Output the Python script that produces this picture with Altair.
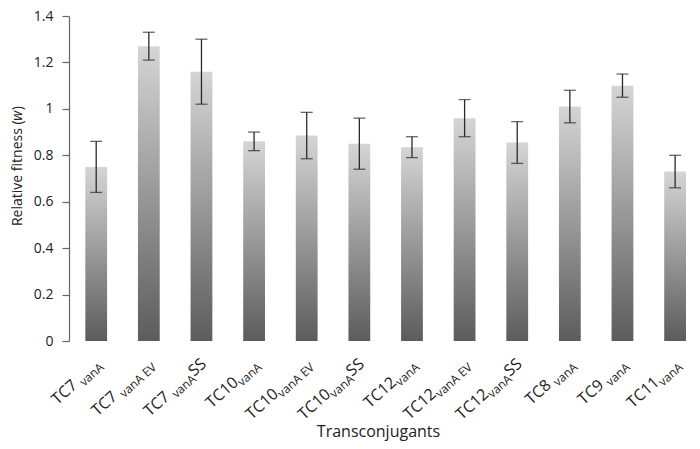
import altair as alt
import pandas as pd

# ---- data ----
mains = ["TC7", "TC7", "TC7", "TC10", "TC10", "TC10", "TC12", "TC12", "TC12", "TC8", "TC9", "TC11"]
subs = ["vanA", "vanA EV", "vanA", "vanA", "vanA EV", "vanA", "vanA", "vanA EV", "vanA", "vanA", "vanA", "vanA"]
suffixes = ["", "", "SS", "", "", "SS", "", "", "SS", "", "", ""]
gaps = [True, True, True, False, False, False, False, False, False, True, True, False]
fitness = [0.75, 1.27, 1.16, 0.86, 0.885, 0.85, 0.835, 0.96, 0.855, 1.01, 1.10, 0.73]
errors = [0.11, 0.06, 0.14, 0.04, 0.10, 0.11, 0.045, 0.08, 0.09, 0.07, 0.05, 0.07]
y_ticks = [0, 0.2, 0.4, 0.6, 0.8, 1, 1.2, 1.4]
y_title = ["Relative fitness (", "w", ")"]
x_title = "Transconjugants"

cats = [m + (" " if g else "") + s + x for m, s, x, g in zip(mains, subs, suffixes, gaps)]

FONT = "Open Sans"
TXT = "#222222"
W, H = 617, 325

# approximate Open Sans advance widths (em)
CW = {" ": 0.26, "(": 0.30, ")": 0.30, "R": 0.63, "e": 0.56, "l": 0.253, "a": 0.556,
      "t": 0.344, "i": 0.253, "v": 0.497, "f": 0.315, "n": 0.614, "s": 0.476,
      "w": 0.764, "T": 0.557, "C": 0.633, "A": 0.633, "E": 0.556, "V": 0.613,
      "S": 0.547}
for d in "0123456789":
    CW[d] = 0.572


def tw(s, size):
    return sum(CW.get(c, 0.55) for c in s) * size


df = pd.DataFrame({
    "cat": cats,
    "fitness": fitness,
    "lo": [f - e for f, e in zip(fitness, errors)],
    "hi": [f + e for f, e in zip(fitness, errors)],
})

xscale = alt.Scale(domain=cats, paddingInner=0.586, paddingOuter=0.155, align=1)

grad = alt.Gradient(
    gradient="linear",
    stops=[alt.GradientStop(color="#d5d5d5", offset=0),
           alt.GradientStop(color="#5c5c5c", offset=1)],
    x1=0, x2=0, y1=0, y2=1,
)

bars = alt.Chart(df).mark_bar(color=grad).encode(
    x=alt.X("cat:N", scale=xscale, sort=cats,
            axis=alt.Axis(labels=False, ticks=False, title=None, domainColor="#666666",
                          domainWidth=1.2)),
    y=alt.Y("fitness:Q", scale=alt.Scale(domain=[0, 1.4], nice=False),
            axis=alt.Axis(values=y_ticks, format=".1~f", grid=False, title=None,
                          tickSize=7, tickColor="#666666", tickWidth=1.2,
                          domainColor="#666666", domainWidth=1.2,
                          labelPadding=9, labelFont=FONT, labelFontSize=14,
                          labelColor=TXT)),
)

err_rule = alt.Chart(df).mark_rule(color="#2a2a2a", strokeWidth=1.3).encode(
    x=alt.X("cat:N", scale=xscale, sort=cats, axis=None),
    y=alt.Y("lo:Q"), y2="hi:Q",
)
cap_lo = alt.Chart(df).mark_tick(color="#2a2a2a", size=12, thickness=1.3).encode(
    x=alt.X("cat:N", scale=xscale, sort=cats, axis=None), y=alt.Y("lo:Q"))
cap_hi = alt.Chart(df).mark_tick(color="#2a2a2a", size=12, thickness=1.3).encode(
    x=alt.X("cat:N", scale=xscale, sort=cats, axis=None), y=alt.Y("hi:Q"))

layers = [bars, err_rule, cap_lo, cap_hi]

# ---- rotated x labels with subscripts (dx/dy are in the rotated frame) ----
MAIN, SUB, SUBDROP = 16, 12, 4
END_A, END_B = -12, 22
ANGLE = 318
for cat, m, s, x, g in zip(cats, mains, subs, suffixes, gaps):
    pieces = [(m, MAIN, 0, (tw(" ", MAIN) if g else 0.0)), (s, SUB, SUBDROP, 0.0), (x, MAIN, 0, 0.0)]
    widths = [tw(p[0], p[1]) + p[3] for p in pieces]
    for k, (txt, size, drop, extra) in enumerate(pieces):
        if not txt:
            continue
        after = sum(widths[k + 1:]) + extra
        layers.append(
            alt.Chart(pd.DataFrame({"cat": [cat], "t": [txt]})).mark_text(
                angle=ANGLE, align="right", baseline="alphabetic", font=FONT,
                fontSize=size, color=TXT, dx=END_A - after, dy=END_B + drop,
            ).encode(
                x=alt.X("cat:N", scale=xscale, sort=cats, axis=None),
                y=alt.value(H), text="t:N",
            )
        )

# ---- y title with italic w ----
yt_size = 14
styles = ["normal", "italic", "normal"]
yw = [tw(t, yt_size) for t in y_title]
start = -sum(yw) / 2
for t, st, w_ in zip(y_title, styles, yw):
    layers.append(
        alt.Chart(pd.DataFrame({"t": [t]})).mark_text(
            angle=270, align="left", baseline="alphabetic", font=FONT,
            fontSize=yt_size, fontStyle=st, color=TXT, dx=start,
        ).encode(x=alt.value(-47), y=alt.value(150), text="t:N")
    )
    start += w_

# ---- x title ----
layers.append(
    alt.Chart(pd.DataFrame({"t": [x_title]})).mark_text(
        align="center", baseline="alphabetic", font=FONT, fontSize=16, color=TXT,
    ).encode(x=alt.value(W / 2 + 1), y=alt.value(421), text="t:N")
)

chart = alt.layer(*layers).properties(
    width=W, height=H,
    autosize="none",
    padding={"left": 61, "top": 8, "right": 6, "bottom": 102},
).configure_view(stroke=None)

chart.save("out.html", embed_options={"renderer": "svg", "actions": False})
